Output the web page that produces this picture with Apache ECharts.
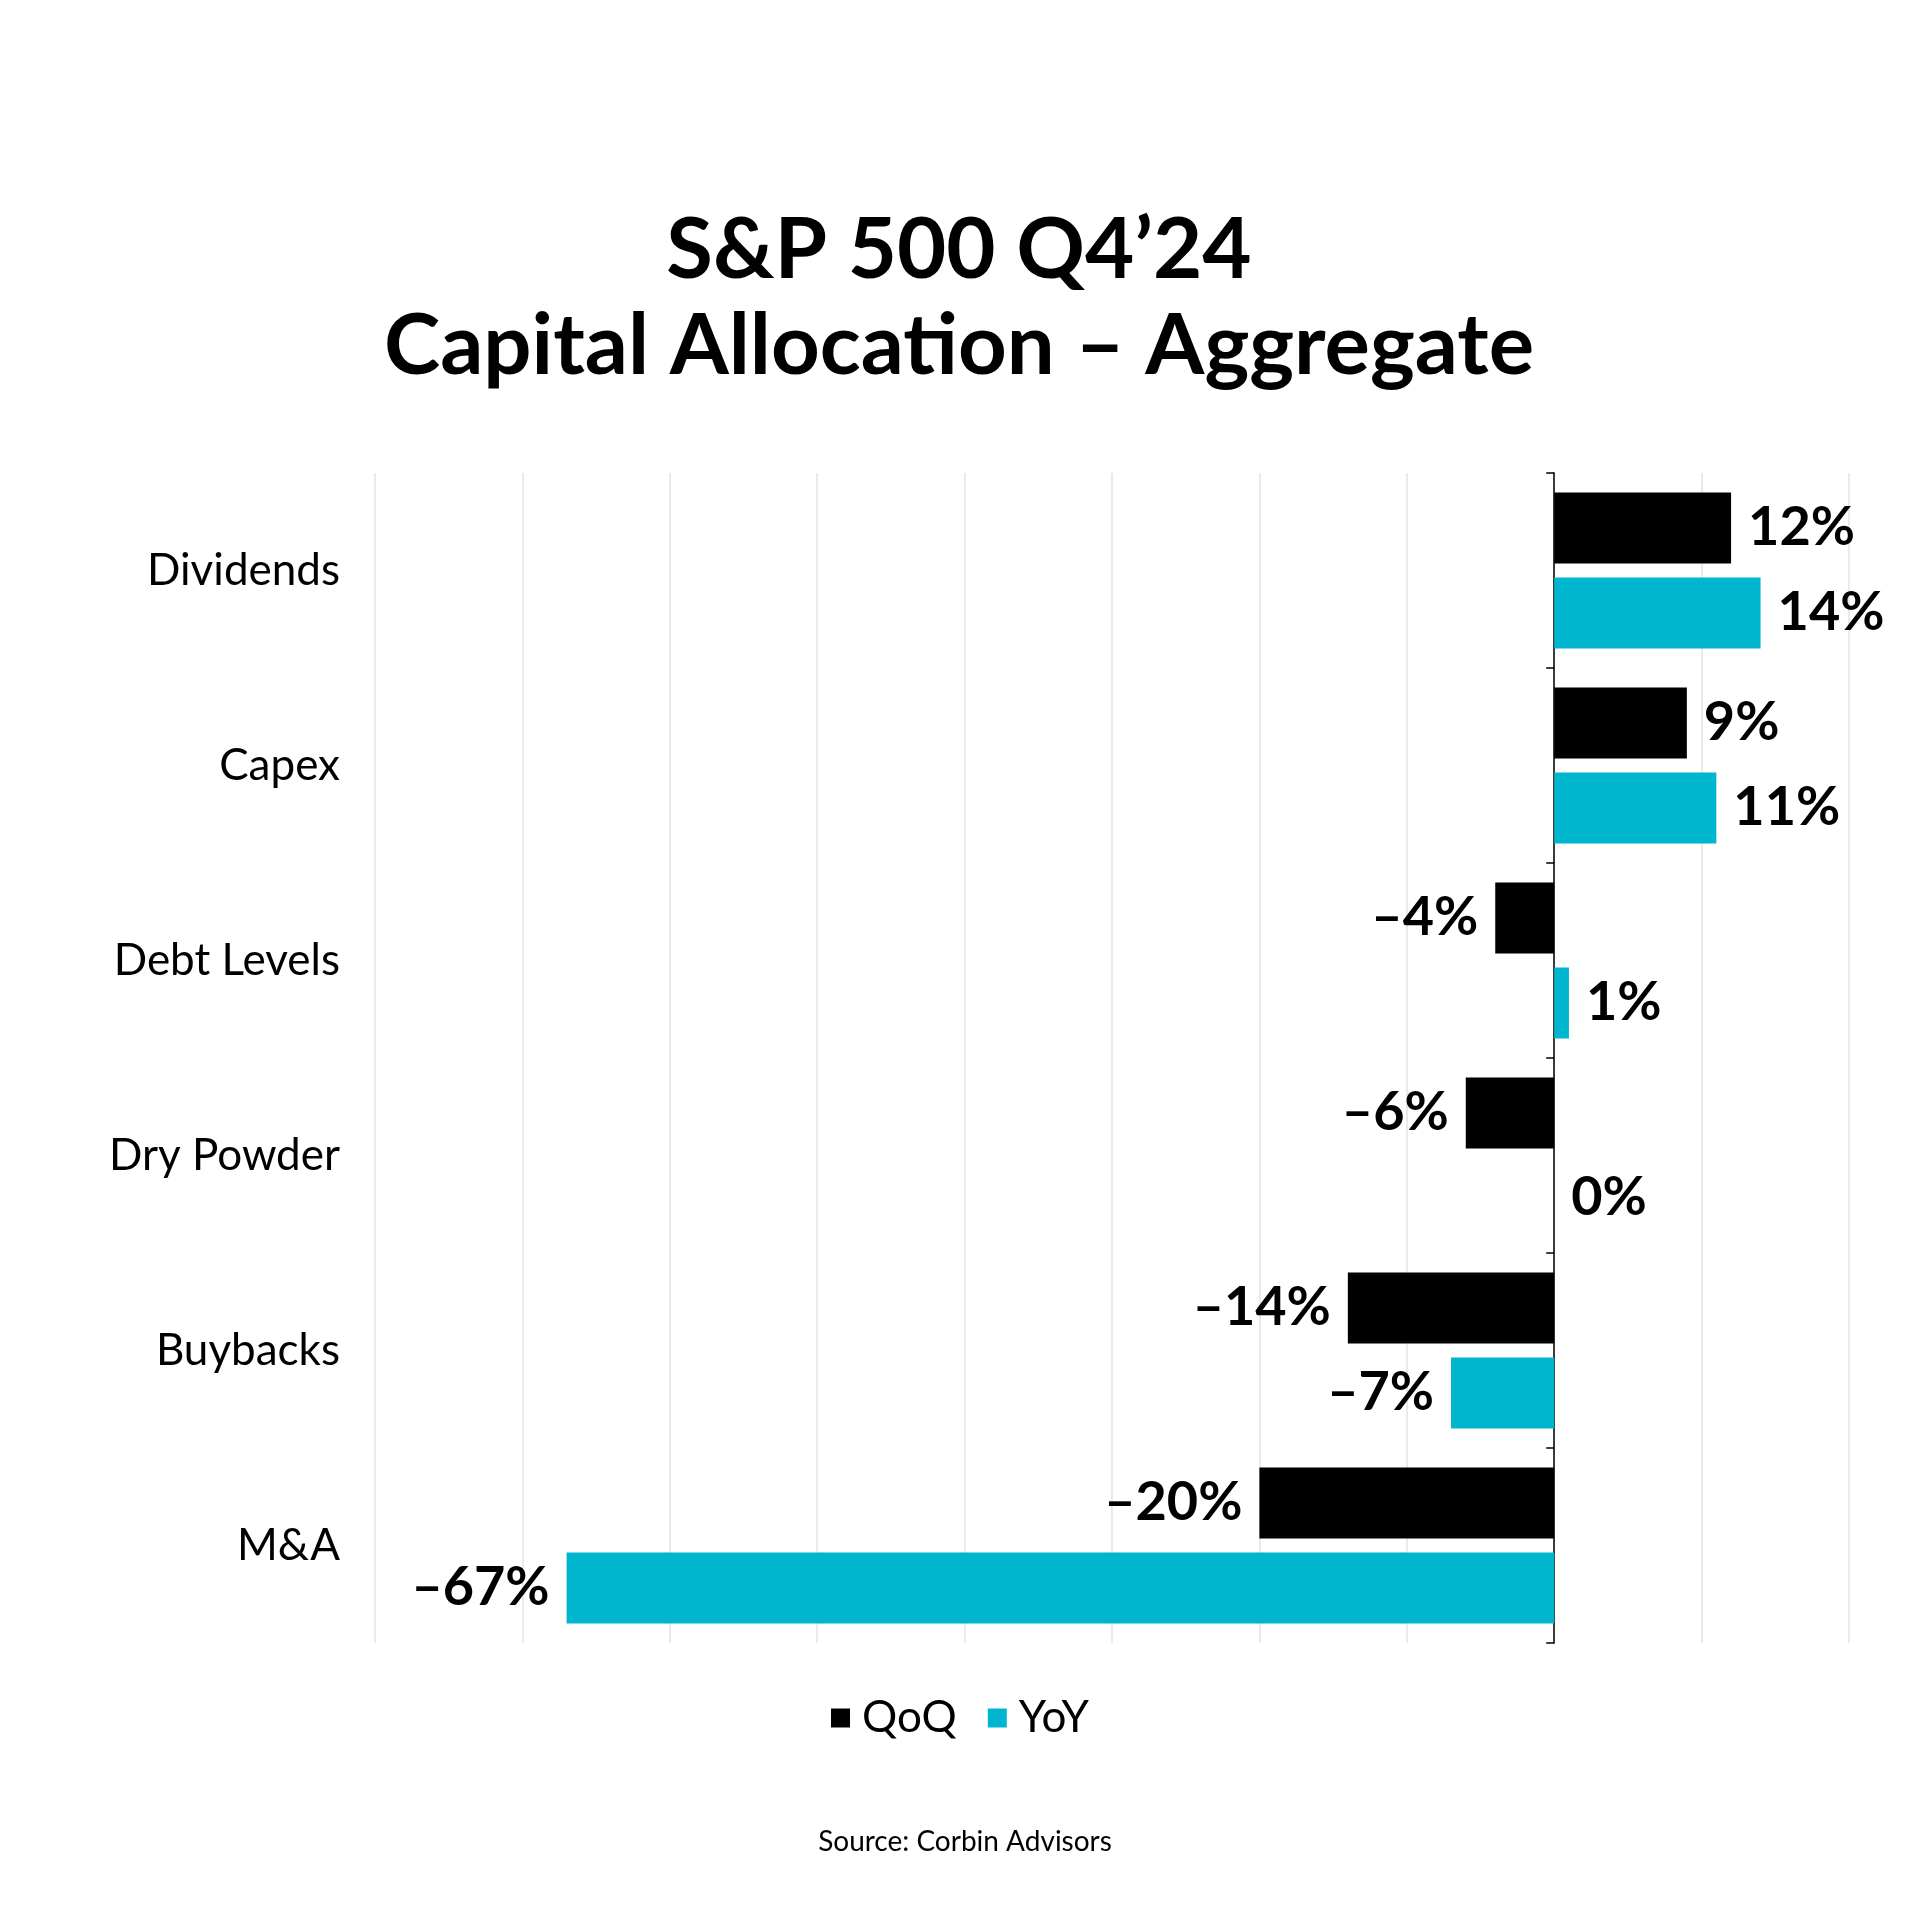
<!DOCTYPE html>
<html>
<head>
<meta charset="utf-8">
<script src="https://cdn.jsdelivr.net/npm/echarts@6/dist/echarts.min.js"></script>
<style>html,body{margin:0;padding:0;background:#fff}#c{width:1920px;height:1920px}</style>
</head>
<body>
<div id="c"></div>
<script>
const categories = ['Dividends', 'Capex', 'Debt Levels', 'Dry Powder', 'Buybacks', 'M&A'];
const qoqValues = [12, 9, -4, -6, -14, -20];
const yoyValues = [14, 11, 1, 0, -7, -67];
const seriesNames = ['QoQ', 'YoY'];
const titleText = 'S&P 500 Q4\u201924\nCapital Allocation \u2013 Aggregate';
const sourceText = 'Source: Corbin Advisors';

const FONT = 'Lato';
const colors = ['#000000', '#00b6ce'];
const X_MIN = -80, X_MAX = 20;
const GRID = { left: 375, right: 71, top: 473, bottom: 277 };
const plotWidth = 1920 - GRID.left - GRID.right;
const zeroOffset = -plotWidth * (0 - X_MIN) / (X_MAX - X_MIN);

function fmt(v) { return (v < 0 ? '\u2013' + Math.abs(v) : String(v)) + '%'; }
function toData(arr) {
  return arr.map(v => ({ value: v, label: { position: v < 0 ? 'left' : 'right' } }));
}

const chart = echarts.init(document.getElementById('c'), null, { renderer: 'canvas' });
chart.setOption({
  backgroundColor: '#ffffff',
  animation: false,
  title: [{
    text: titleText,
    left: 954,
    top: 198,
    textAlign: 'center',
    textStyle: { fontFamily: FONT, fontWeight: 'bold', fontSize: 85, lineHeight: 96, color: '#000' }
  }, {
    text: sourceText,
    left: 960,
    top: 1823,
    textAlign: 'center',
    textStyle: { fontFamily: FONT, fontWeight: 'normal', fontSize: 28, color: '#000' }
  }],
  legend: {
    data: seriesNames,
    left: 'center',
    top: 1688,
    icon: 'rect',
    itemWidth: 19,
    itemHeight: 19,
    itemGap: 31,
    textStyle: { fontFamily: FONT, fontSize: 44, color: '#000', lineHeight: 50, padding: [0, 0, 0, 7] }
  },
  grid: { left: GRID.left, right: GRID.right, top: GRID.top, bottom: GRID.bottom, containLabel: false },
  xAxis: {
    type: 'value',
    min: X_MIN,
    max: X_MAX,
    interval: 10,
    axisLabel: { show: false },
    axisLine: { show: false },
    axisTick: { show: false },
    splitLine: { show: true, lineStyle: { color: '#e3e3e3', width: 1.5 } }
  },
  yAxis: [{
    type: 'category',
    data: categories,
    inverse: true,
    position: 'left',
    axisLine: { show: false, onZero: false },
    axisTick: { show: false },
    axisLabel: { fontFamily: FONT, fontSize: 44, color: '#000', margin: 35 }
  }, {
    type: 'category',
    data: categories,
    inverse: true,
    position: 'left',
    offset: zeroOffset,
    axisLine: { show: true, onZero: false, lineStyle: { color: '#000', width: 1.5 } },
    axisTick: { show: true, length: 8, lineStyle: { color: '#000', width: 1.5 } },
    axisLabel: { show: false },
    splitLine: { show: false }
  }],
  series: [{
    name: seriesNames[0],
    type: 'bar',
    data: toData(qoqValues),
    itemStyle: { color: colors[0] },
    barGap: '20%',
    barCategoryGap: '20%',
    label: { show: true, distance: 17, formatter: p => fmt(p.value), fontFamily: FONT, fontWeight: 'bold', fontSize: 54, color: '#000' }
  }, {
    name: seriesNames[1],
    type: 'bar',
    data: toData(yoyValues),
    itemStyle: { color: colors[1] },
    barGap: '20%',
    barCategoryGap: '20%',
    label: { show: true, distance: 17, formatter: p => fmt(p.value), fontFamily: FONT, fontWeight: 'bold', fontSize: 54, color: '#000' }
  }]
});
</script>
</body>
</html>
